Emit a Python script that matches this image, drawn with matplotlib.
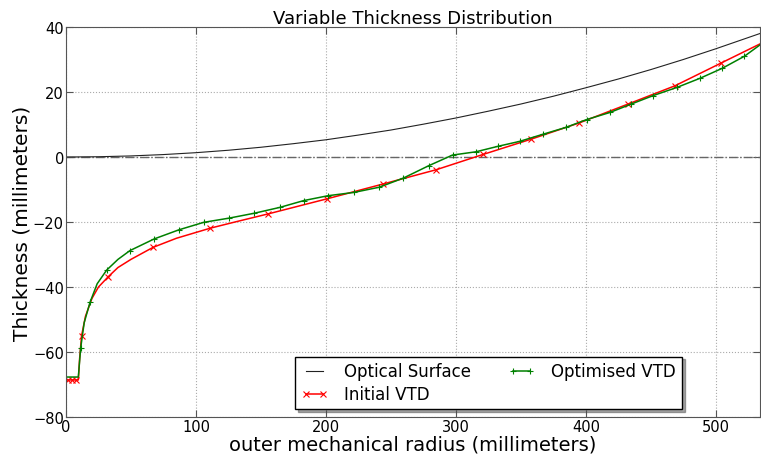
import matplotlib
matplotlib.use("Agg")
import matplotlib.pyplot as plt

# optical surface sag (mm) vs radius
surf_r = [0, 25, 50, 75, 100, 125, 150, 175, 200, 225, 250, 275, 300, 325, 350,
          375, 400, 425, 450, 475, 500, 534]
surf_t = [0, 0.08, 0.33, 0.75, 1.33, 2.08, 3.0, 4.1, 5.3, 6.75, 8.3, 10.1, 12.0,
          14.1, 16.3, 18.7, 21.3, 24.0, 26.9, 30.0, 33.3, 38.0]

init_r = [0, 1.5, 4.5, 7.5, 9.5, 10.5, 12, 15, 20, 25, 32.6, 40, 50, 67, 85, 111,
          130, 155.6, 200.5, 244, 285, 321, 358, 395, 432.5, 468.5, 504, 534]
init_t = [-68.6, -68.6, -68.6, -68.6, -68.6, -62, -55, -49, -43.5, -40, -36.8, -34,
          -31.5, -27.8, -25, -21.9, -20, -17.5, -12.9, -8.3, -3.9, 0.8, 5.5, 10.5,
          16.3, 21.9, 28.9, 34.8]
init_marks = [1, 2, 3, 6, 10, 13, 15, 17, 18, 19, 20, 21, 22, 23, 24, 25, 26]

opt_r = [0, 9.5, 11.3, 14, 18.5, 24, 31.3, 40, 49.2, 67.9, 86.9, 106, 125.6, 144.9,
         164.6, 183, 201.8, 221.5, 241, 259.5, 279, 297.4, 315.4, 332.5, 349, 367,
         384.6, 400.5, 418.5, 435, 451.8, 470, 487.7, 505, 522, 534]
opt_t = [-67.7, -67.7, -58.8, -51, -44.7, -39, -34.8, -31.5, -28.8, -25.2, -22.4,
         -20.1, -18.8, -17.3, -15.5, -13.4, -11.9, -10.9, -9.3, -6.5, -2.7, 0.6, 1.6,
         3.3, 4.8, 7, 9.1, 11.5, 13.7, 16.3, 18.9, 21.4, 24.2, 27.3, 31, 34.5]
opt_marks = [2, 4, 6, 8, 9, 10, 11, 12, 13, 14, 15, 16, 17, 18, 19, 20, 21, 22, 23,
             24, 25, 26, 27, 28, 29, 30, 31, 32, 33, 34]

fig = plt.figure(figsize=(7.61, 4.56), dpi=100)
ax = fig.add_axes([0.0867, 0.0833, 0.912, 0.8553])

ax.axhline(0, color='#666666', linestyle='-.', linewidth=1)
ax.plot(surf_r, surf_t, color='#222222', linewidth=0.8, label='Optical Surface')
ax.plot(init_r, init_t, '-x', color='red', linewidth=1.1, markersize=4,
        markeredgewidth=0.8, markevery=init_marks, label='Initial VTD')
ax.plot(opt_r, opt_t, '-+', color='green', linewidth=1.1, markersize=5,
        markeredgewidth=0.8, markevery=opt_marks, label='Optimised VTD')

ax.set_xlim(0, 534)
ax.set_ylim(-80, 40)
ax.set_xticks([0, 100, 200, 300, 400, 500])
ax.set_yticks([-80, -60, -40, -20, 0, 20, 40])
ax.tick_params(direction='in', top=True, right=True, labelsize=10.5, length=5,
               pad=1.5, color='#555555')
ax.grid(True, color='#aaaaaa', linestyle=':', linewidth=0.8)
for s in ax.spines.values():
    s.set_color('#555555')

ax.set_title('Variable Thickness Distribution', fontsize=13, pad=3)
ax.set_xlabel('outer mechanical radius (millimeters)', fontsize=14, labelpad=0)
ax.set_ylabel('Thickness (millimeters)', fontsize=14.5, labelpad=1)

leg = ax.legend(ncol=2, fontsize=12, loc='lower left',
                bbox_to_anchor=(0.33, 0.02), borderaxespad=0, shadow=True,
                fancybox=False, numpoints=2, handlelength=1.6, handletextpad=1.0,
                labelspacing=0.3, columnspacing=2.2, borderpad=0.35)
leg.get_frame().set_edgecolor('black')

fig.savefig('out.png', dpi=100)
